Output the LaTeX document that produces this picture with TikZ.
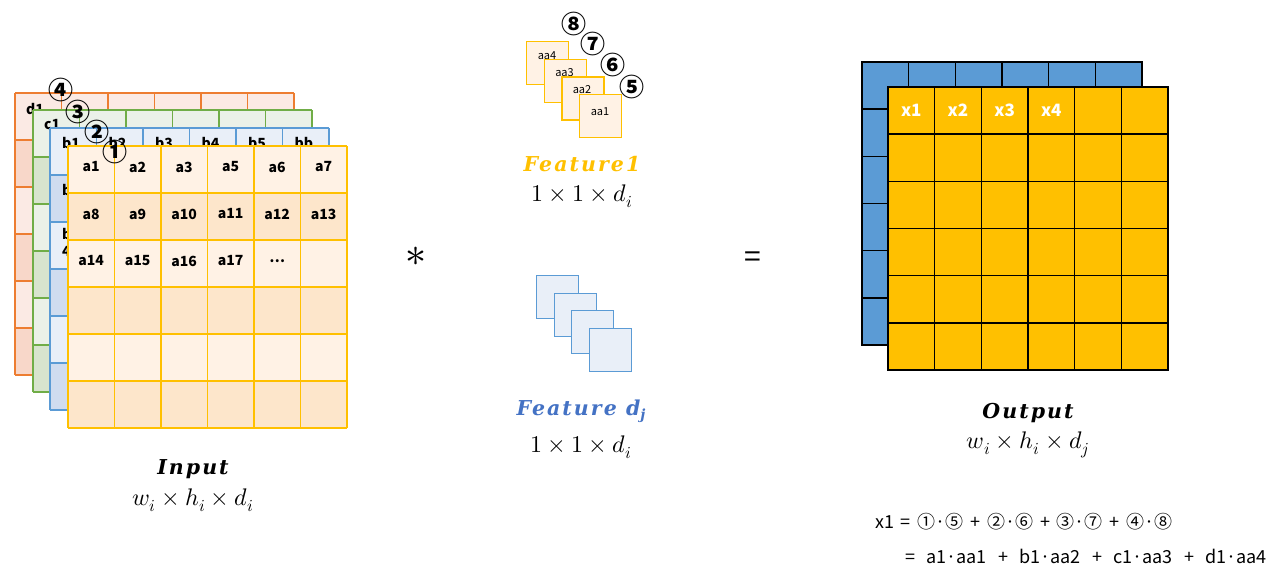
\documentclass[tikz,border=0pt]{standalone}
\usepackage{fontspec}
\usepackage{unicode-math}
\setmathfont{Latin Modern Math}
\newfontfamily\kr{Noto Sans CJK KR}
\newfontfamily\kreqA{Noto Sans CJK KR}[WordSpace=1.26]
\newfontfamily\kreqB{Noto Sans CJK KR}[WordSpace=1.67]
\newfontfamily\lab{DejaVu Serif}[LetterSpace=10]
\definecolor{yel}{HTML}{FFC000}
\definecolor{blu}{HTML}{5B9BD5}
\definecolor{org}{HTML}{ED7D31}
\definecolor{grn}{HTML}{70AD47}
\definecolor{fdblue}{HTML}{4472C4}
\definecolor{yelL}{HTML}{FFF2E5}
\definecolor{yelD}{HTML}{FDE6CB}
\definecolor{orgL}{HTML}{FBEAE4}
\definecolor{orgD}{HTML}{F8D7C9}
\definecolor{grnL}{HTML}{EBF1E8}
\definecolor{grnD}{HTML}{D7E4CE}
\definecolor{bluL}{HTML}{E9EFF8}
\definecolor{bluD}{HTML}{D0DCEF}
\tikzset{
  every node/.style={inner sep=0pt},
  lay/.style={line width=1.4pt},
  atxt/.style={font=\kr\bfseries\fontsize{14}{14}\selectfont},
  btxt/.style={font=\kr\bfseries\fontsize{14}{17}\selectfont, anchor=north west, align=left},
  circ/.style={font=\kr\bfseries\fontsize{25}{25}\selectfont},
  ktxt/.style={font=\kr\fontsize{11}{11}\selectfont},
  kerY/.style={draw=yel, fill=yelL, line width=1.3pt, anchor=north west, minimum width=42pt, minimum height=43pt},
  kerB/.style={draw=blu, fill=bluL, line width=1.3pt, anchor=north west, minimum width=42pt, minimum height=43pt},
  title/.style={font=\lab\bfseries\itshape\fontsize{20.5}{24}\selectfont},
  dims/.style={font=\fontsize{24}{28}\selectfont},
  xtxt/.style={font=\kr\bfseries\fontsize{17}{17}\selectfont, text=white},
  eqA/.style={font=\kreqA\fontsize{18}{18}\selectfont, anchor=west},
  eqB/.style={font=\kreqB\fontsize{18}{18}\selectfont, anchor=west},
}
\newcommand\gridlayer[5]{%
  \fill[#4] (#1,#2) rectangle ++(279,282);
  \foreach \r in {1,3,5} \fill[#5] (#1,{#2+\r*47}) rectangle ++(279,47);
  \foreach \i in {0,1,2,3,4,5,6} \draw[lay,#3] ({#1+\i*46.5},#2) -- ++(0,282);
  \foreach \j in {0,1,2,3,4,5,6} \draw[lay,#3] (#1,{#2+\j*47}) -- ++(279,0);
}
\newcommand\outlayer[3]{%
  \fill[#3] (#1,#2) rectangle ++(280,283);
  \foreach \i in {1,2,3,4,5} \draw[line width=1.5pt] ({#1+\i*280/6},#2) -- ++(0,283);
  \foreach \j in {1,2,3,4,5} \draw[line width=1.5pt] (#1,{#2+\j*283/6}) -- ++(280,0);
  \draw[line width=1.5pt] (#1,#2) rectangle ++(280,283);
}
\begin{document}
\begin{tikzpicture}[x=1pt,y=-1pt]
\useasboundingbox (0,0) rectangle (1273,584);
% ---------- input layers ----------
\gridlayer{15}{93}{org}{orgL}{orgD}
\node[btxt] (d1) at (26,103) {d1};
\node[circ] (c4) at (61,90) {④};
\gridlayer{33}{110}{grn}{grnL}{grnD}
\node[btxt] (c1) at (44,119) {c1};
\node[circ] (c3) at (78,112) {③};
\gridlayer{50}{128}{blu}{bluL}{bluD}
\foreach \t [count=\i from 0] in {b1,b2,b3,b4,b5,bb}
  \node[btxt] (b\i) at ({62+\i*46.5},137) {\t};
\node[btxt] (b8) at (62,184) {b8};
\node[btxt] (b14) at (62,228) {b1\\4};
\node[circ] (c2) at (97,132) {②};
\gridlayer{68}{146}{yel}{yelL}{yelD}
\foreach \t [count=\i from 0] in {a1,a2,a3,a5,a6,a7}
  \node[atxt] (ra\i) at ({91.25+\i*46.5},167) {\t};
\foreach \t [count=\i from 0] in {a8,a9,a10,a11,a12,a13}
  \node[atxt] (rb\i) at ({91.25+\i*46.5},214) {\t};
\foreach \t [count=\i from 0] in {a14,a15,a16,a17}
  \node[atxt] (rc\i) at ({91.25+\i*46.5},261) {\t};
\node[atxt] (rc4) at (277.25,261) {\ldots};
\node[circ] (c1n) at (115,152) {①};
\node[title] (inp) at (193,469) {Input};
\node[dims] (inpd) at (193,500) {$w_i \times h_i \times d_i$};
% ---------- operator ----------
\node[font=\fontsize{42}{42}\selectfont] (star) at (416,257) {$\ast$};
\node[font=\kr\fontsize{30}{30}\selectfont] (eq) at (753,260) {=};
% ---------- feature 1 ----------
\node[kerY] (k4) at (526,41) {};
\node[ktxt] (k4t) at (547,56) {aa4};
\node[kerY] (k3) at (543.7,58.7) {};
\node[ktxt] (k3t) at (564.5,73) {aa3};
\node[kerY] (k2) at (561.3,76.3) {};
\node[ktxt] (k2t) at (582,90) {aa2};
\node[kerY] (k1) at (579,94) {};
\node[ktxt] (k1t) at (600,112) {aa1};
\node[circ] (c8) at (574,24) {⑧};
\node[circ] (c7) at (593,44) {⑦};
\node[circ] (c6) at (613,65) {⑥};
\node[circ] (c5) at (632,87) {⑤};
\node[title, text=yel] (f1) at (582,164) {Feature1};
\node[dims] (f1d) at (582,196) {$1 \times 1 \times d_i$};
% ---------- feature dj ----------
\node[kerB] (j4) at (536,275) {};
\node[kerB] (j3) at (553.5,292.5) {};
\node[kerB] (j2) at (571,310) {};
\node[kerB] (j1) at (588.5,327.5) {};
\node[title, text=fdblue] (fj) at (581,411) {Feature d\raisebox{-0.35ex}{\fontsize{14}{14}\selectfont j}};
\node[dims] (fjd) at (581,447) {$1 \times 1 \times d_i$};
% ---------- output ----------
\outlayer{862}{62}{blu}
\outlayer{888}{87}{yel}
\foreach \t [count=\i from 0] in {x1,x2,x3,x4}
  \node[xtxt] (o\i) at ({911.3+\i*46.67},110) {\t};
\node[title] (out) at (1028,413) {Output};
\node[dims] (outd) at (1028,445) {$w_i \times h_i \times d_j$};
% ---------- equation ----------
\node[eqA] (eq1) at (875,522) {x1 = ①·⑤ + ②·⑥ + ③·⑦ + ④·⑧};
\node[eqB] (eq2) at (905,556) {= a1·aa1 + b1·aa2 + c1·aa3 + d1·aa4};
\end{tikzpicture}
\end{document}
